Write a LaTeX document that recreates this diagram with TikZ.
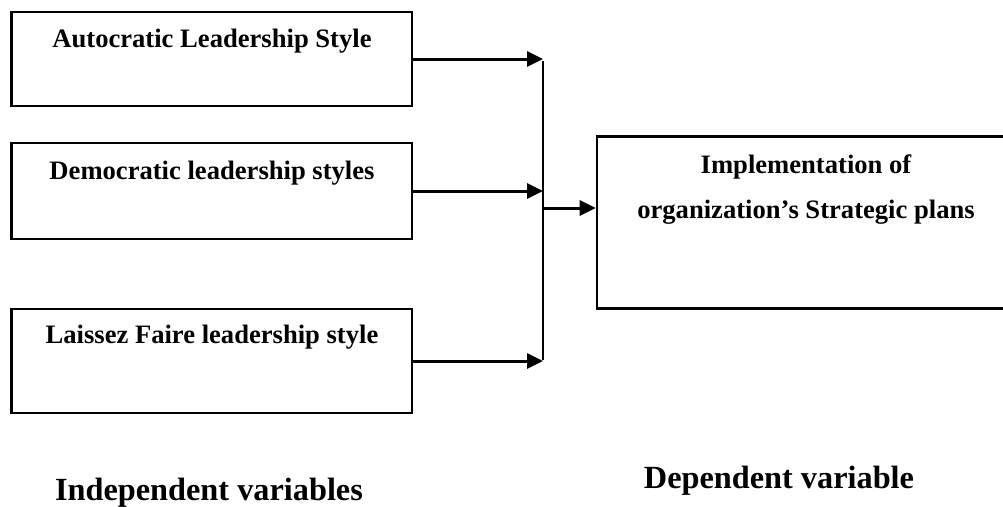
\documentclass[tikz,border=0pt]{standalone}
\usepackage{fontspec}
\setmainfont{Liberation Serif}
\usetikzlibrary{arrows.meta}
\begin{document}
\begin{tikzpicture}[x=1pt,y=-1pt,
  box/.style={draw=black, line width=2.6pt, rectangle, inner sep=0pt},
  boxtext/.style={anchor=base, inner sep=0pt, font=\bfseries\fontsize{26.6}{32}\selectfont},
  headtext/.style={anchor=base, inner sep=0pt, font=\bfseries\fontsize{32.3}{38}\selectfont},
  arr/.style={line width=3pt, -{Triangle[length=16pt,width=15pt]}},
  bus/.style={line width=2.4pt}]
\useasboundingbox (0,0) rectangle (1003,506);
% boxes
\node[box, minimum width=400.5pt, minimum height=94pt] (a) at (211.75,59) {};
\node[box, minimum width=400.5pt, minimum height=96pt] (b) at (211.75,191) {};
\node[box, minimum width=400.5pt, minimum height=104pt] (c) at (211.75,361) {};
\node[box, minimum width=418pt, minimum height=172pt] (d) at (806,222.5) {};
% texts
\node[boxtext] (ta) at (212,47) {Autocratic Leadership Style};
\node[boxtext] (tb) at (212,179) {Democratic leadership styles};
\node[boxtext] (tc) at (212,343) {Laissez Faire leadership style};
\node[boxtext] (td1) at (806,173) {Implementation of};
\node[boxtext] (td2) at (806,218) {organization’s Strategic plans};
\node[headtext] (hi) at (209,500) {Independent variables};
\node[headtext] (hd) at (779,488) {Dependent variable};
% connectors
\coordinate (j) at (543,208);
\draw[arr] (a.east) -- (a.east -| j);
\draw[arr] (b.east) -- (b.east -| j);
\draw[arr] (c.east) -- (c.east -| j);
\draw[bus] ([yshift=-1.5pt]j |- a.east) -- ([yshift=1.5pt]j |- c.east);
\draw[arr] (j) -- (j -| d.west);
\end{tikzpicture}
\end{document}
